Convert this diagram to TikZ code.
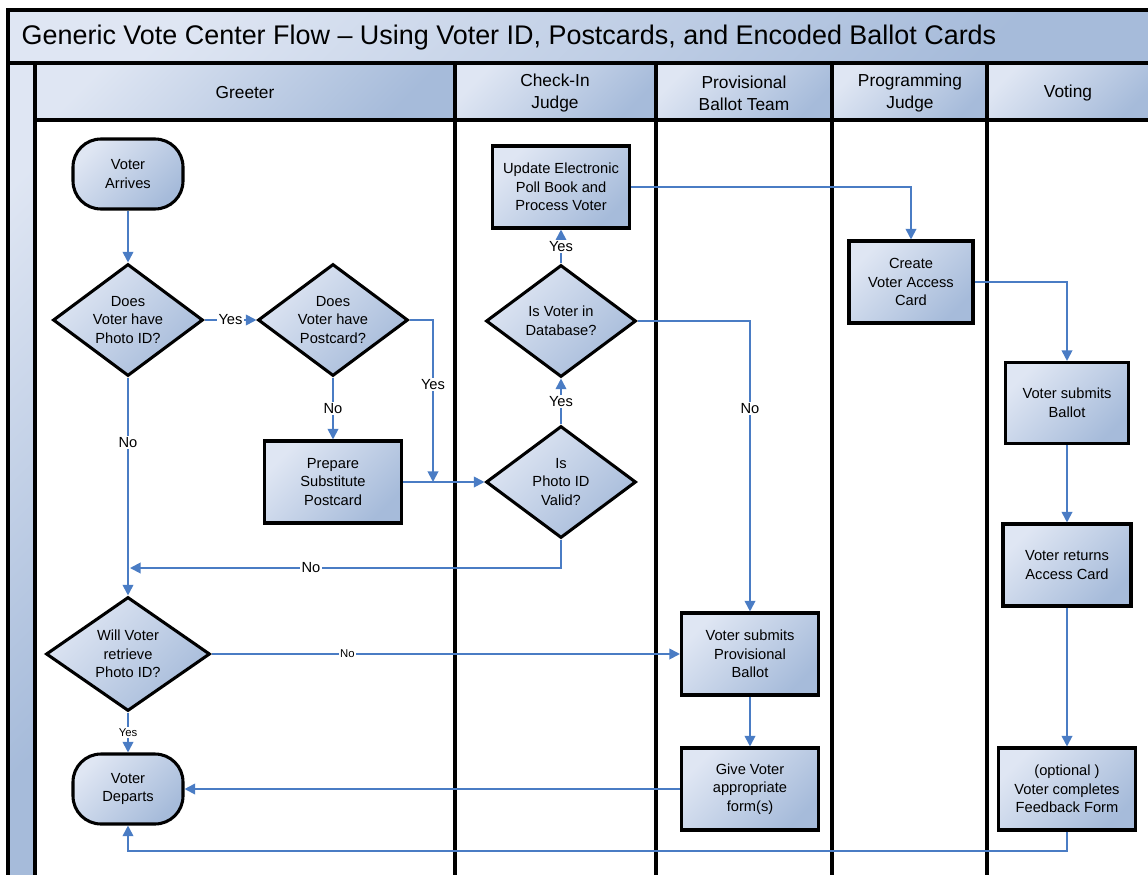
\documentclass[tikz,border=0pt]{standalone}
\usepackage{fontspec}
\setmainfont{Liberation Sans}
\usetikzlibrary{arrows.meta,shapes.geometric}
\definecolor{fillA}{HTML}{DFE6F3}
\definecolor{fillB}{HTML}{A6BBDA}
\definecolor{flow}{HTML}{4A7CC4}
\begin{document}
\begin{tikzpicture}[x=0.75pt,y=-0.75pt,
	shd/.style={top color=fillA,bottom color=fillB,shading angle=45},
	box/.style={shd,draw,line width=2.3pt,rectangle,minimum width=102.75pt,minimum height=61.5pt,align=center,inner sep=0pt,font=\fontsize{11}{13.9}\selectfont},
	term/.style={box,rounded corners=21pt,minimum width=82.5pt,minimum height=52.5pt},
	dia/.style={box,diamond,aspect=1.34,minimum width=112.5pt,minimum height=84pt},
	conn/.style={draw=flow,line width=1.4pt,-{Triangle[length=8pt,width=8pt]}},
	lbl/.style={fill=white,inner sep=1pt,font=\fontsize{11}{13}\selectfont},
	sml/.style={lbl,font=\fontsize{8.5}{10}\selectfont},
	lane/.style={line width=2.3pt}]
	\useasboundingbox (0,0) rectangle (1148,874);
	\begin{scope}
		\clip (0,0) rectangle (1148,874);
		\shade[shd] (8,10) rectangle (1152,63);
		\shade[shd] (8,63) rectangle (35,880);
		\foreach \xa/\xb/\nm/\xt/\txt in {35/455/hGreet/245/Greeter,455/656/hCheck/555/{Check-In\\Judge},656/832/hProv/744/{Provisional\\Ballot Team},832/987/hProg/910/{Programming\\Judge},987/1152/hVote/1068/Voting}{
			\shade[shd] (\xa,63) rectangle (\xb,120);
			\node[align=center,font=\fontsize{13}{16.5}\selectfont] (\nm) at (\xt,93) {\txt};
		}
		\draw[lane] (8,880) -- (8,10) -- (1152,10) (8,63) -- (1152,63) (35,120) -- (1152,120);
		\foreach \x in {35,455,656,832,987} \draw[lane] (\x,63) -- (\x,880);
	\end{scope}
	\node[anchor=west,font=\fontsize{20.2}{24}\selectfont] (ttl) at (17,38) {Generic Vote Center Flow – Using Voter ID, Postcards, and Encoded Ballot Cards};
	\node[term] (arr) at (128,174) {Voter\\Arrives};
	\node[dia] (qid) at (128,320) {Does\\Voter have\\Photo ID?};
	\node[dia] (qpc) at (333,320) {Does\\Voter have\\Postcard?};
	\node[box] (prep) at (333,482) {Prepare\\Substitute\\Postcard};
	\node[dia] (qval) at (561,482) {Is\\Photo ID\\Valid?};
	\node[dia] (qdb) at (561,321) {Is Voter in\\Database?};
	\node[box] (upd) at (561,187) {Update Electronic\\Poll Book and\\Process Voter};
	\node[box,minimum width=93pt] (card) at (911,282) {Create\\Voter Access\\Card};
	\node[box,minimum width=92.25pt,minimum height=60.75pt] (vsub) at (1067,403) {Voter submits\\Ballot};
	\node[box,minimum width=96pt] (vret) at (1067,565) {Voter returns\\Access Card};
	\node[box] (fb) at (1067,789) {(optional )\\Voter completes\\Feedback Form};
	\node[box] (prov) at (750,654) {Voter submits\\Provisional\\Ballot};
	\node[box] (give) at (750,789) {Give Voter\\appropriate\\form(s)};
	\node[dia,minimum width=123pt,minimum height=85.5pt] (qret) at (128,654) {Will Voter\\retrieve\\Photo ID?};
	\node[term] (dep) at (128,789) {Voter\\Departs};
	\coordinate (jpc) at (433,482);
	\coordinate (jno) at (130,568);
	\coordinate (jfb) at (1067,851);
	\draw[conn] (arr) -- (qid);
	\draw[conn] (qid) -- node[lbl]{Yes} (qpc);
	\draw[conn] (qid) -- node[lbl,pos=.3]{No} (qret);
	\draw[conn] (qpc) -- node[lbl]{No} (prep);
	\draw[conn] (qpc.east) -| node[lbl,pos=.7]{Yes} (jpc);
	\draw[conn] (prep) -- (qval);
	\draw[conn] (qval) -- node[lbl]{Yes} (qdb);
	\draw[conn] (qdb) -- node[lbl]{Yes} (upd);
	\draw[conn] (upd.east) -| (card.north);
	\draw[conn] (card.east) -| (vsub.north);
	\draw[conn] (vsub) -- (vret);
	\draw[conn] (vret) -- (fb);
	\draw[conn] (fb.south) -- (jfb) -| (dep.south);
	\draw[conn] (qdb.east) -| node[lbl,pos=.65]{No} (prov.north);
	\draw[conn] (qval.south) |- node[lbl,pos=.79]{No} (jno);
	\draw[conn] (qret) -- node[sml,pos=.29]{No} (prov);
	\draw[conn] (qret) -- node[sml]{Yes} (dep);
	\draw[conn] (prov) -- (give);
	\draw[conn] (give) -- (dep);
\end{tikzpicture}
\end{document}
